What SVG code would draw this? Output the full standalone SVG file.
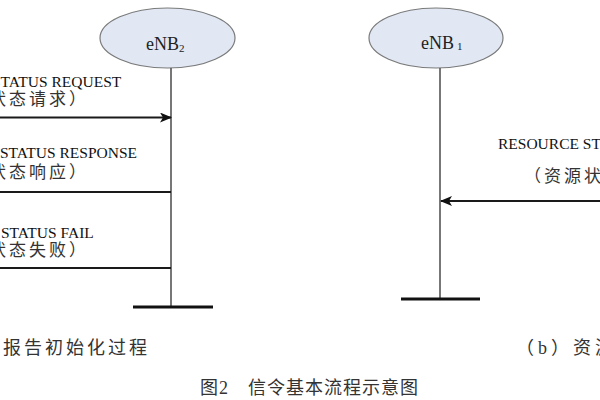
<svg xmlns="http://www.w3.org/2000/svg" width="600" height="400" viewBox="0 0 600 400">
<defs>
<marker id="ah" viewBox="0 0 12 10" refX="11" refY="5" markerWidth="12" markerHeight="10" markerUnits="userSpaceOnUse" orient="auto-start-reverse">
<path d="M0,0 L12,5 L0,10 L3,5 z" fill="#111"/>
</marker>
<style>
.node ellipse{fill:#e1e8f4;stroke:#7a7a7a;stroke-width:1.2}
.life{stroke:#555;stroke-width:1.6}
.base{stroke:#111;stroke-width:3}
.msg{stroke:#1a1a1a;stroke-width:2;fill:none}
.en{font-family:"Liberation Serif","Times New Roman",serif;font-size:15.5px;fill:#111}
.zh{font-family:"Liberation Serif","Noto Sans CJK SC",serif;font-size:17px;letter-spacing:3px;fill:#333}
.lbl{font-family:"Liberation Serif","Times New Roman",serif;font-size:18px;fill:#222}
.sub{font-size:11px}
.cap{font-family:"Liberation Serif","Noto Sans CJK SC",serif;font-size:18px;fill:#333}
</style>
</defs>
<rect width="600" height="400" fill="#fff"/>
<g id="eNB2" class="node">
<ellipse cx="167.5" cy="38" rx="67.5" ry="30"/>
<text class="lbl" x="146" y="50">eNB<tspan class="sub" dy="2">2</tspan></text>
<line class="life" x1="171" y1="68" x2="171" y2="307"/>
<line class="base" x1="133" y1="307" x2="213" y2="307"/>
</g>
<g id="eNB1" class="node">
<ellipse cx="436" cy="38" rx="67" ry="30"/>
<text class="lbl" x="421" y="49">eNB<tspan class="sub" dx="3" dy="1">1</tspan></text>
<line class="life" x1="440" y1="68" x2="440" y2="299"/>
<line class="base" x1="401" y1="299" x2="480" y2="299"/>
</g>
<g id="connectors">
<line class="msg" x1="0" y1="117.5" x2="171" y2="117.5" marker-end="url(#ah)"/>
<line class="msg" x1="0" y1="192" x2="171" y2="192"/>
<line class="msg" x1="0" y1="268" x2="171" y2="268"/>
<line class="msg" x1="600" y1="201" x2="441" y2="201" marker-end="url(#ah)"/>
</g>
<g id="labels">
<text class="en" x="-8" y="87">STATUS REQUEST</text>
<text class="zh" x="-11" y="105">状态请求）</text>
<text class="en" x="0" y="158">STATUS RESPONSE</text>
<text class="zh" x="-11" y="178">状态响应）</text>
<text class="en" x="1" y="238">STATUS FAIL</text>
<text class="zh" x="-11" y="256">状态失败）</text>
<text class="en" x="498" y="149" font-size="16">RESOURCE ST</text>
<text class="zh" x="524" y="182">（资源状</text>
</g>
<g id="captions">
<text class="cap" x="3" y="354" letter-spacing="3">报告初始化过程</text>
<text class="cap" x="516" y="354" letter-spacing="4">（b）资源</text>
<text class="cap" x="200" y="394" letter-spacing="1">图2　信令基本流程示意图</text>
</g>
</svg>
